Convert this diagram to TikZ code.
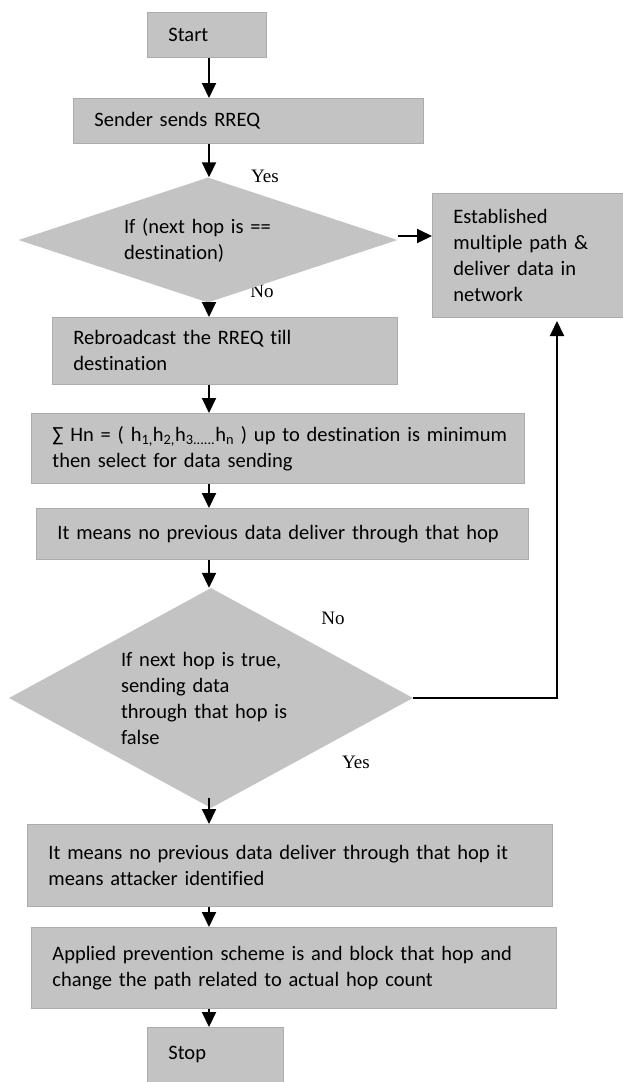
\documentclass[tikz,border=0pt]{standalone}
\usepackage{fontspec}
\setmainfont{Carlito}[Ligatures=NoCommon]
\newfontfamily\lblfont{Liberation Serif}
\usetikzlibrary{shapes.geometric,arrows.meta,positioning}
\definecolor{boxgray}{RGB}{195,195,195}
\definecolor{boxedge}{RGB}{172,172,172}
\tikzset{
  blk/.style={rectangle, fill=boxgray, draw=boxedge, line width=0.8pt, anchor=north west,
    align=left, inner xsep=21pt, inner ysep=0pt, font=\fontsize{20.5}{26}\selectfont},
  dmd/.style={diamond, fill=boxgray, align=left, inner sep=0pt, font=\fontsize{20.5}{26}\selectfont},
  yn/.style={font=\lblfont\fontsize{19}{20}\selectfont, inner sep=0pt},
  flow/.style={line width=2pt, -{Triangle[width=14pt,length=15pt]}},
}
\begin{document}
\begin{tikzpicture}[x=1pt, y=-1pt]
  \useasboundingbox (0,0) rectangle (623,1082);
  \coordinate (ax) at (209,0);
  % main column
  \node [blk, text width=77pt, minimum height=45pt] (start) at (147,12) {Start};
  \node [blk, text width=308pt, minimum height=45pt] (rreq) at (73,98) {Sender sends RREQ};
  \node [yn] (no1) at (262,291) {No};
  \node [dmd, text width=168pt, shape aspect=3, minimum width=379pt, minimum height=125pt] (dec1) at (208,240)
    {If (next hop is ==\\destination)};
  \node [blk, text width=149pt, minimum height=124pt] (est) at (432,193)
    {Established\\multiple path \&\\deliver data in\\network};
  \node [blk, text width=303pt, minimum height=67pt] (rebc) at (52,317)
    {Rebroadcast the RREQ till\\destination};
  \node [blk, text width=451pt, minimum height=70pt] (sum) at (31,413)
    {\mbox{∑ Hn = ( h\textsubscript{1,}h\textsubscript{2,}h\textsubscript{3......}h\textsubscript{n} ) up to destination is minimum}\\then select for data sending};
  \node [blk, text width=450pt, minimum height=51pt] (nop) at (36,508)
    {It means no previous data deliver through that hop};
  \node [dmd, text width=180pt, shape aspect=2, minimum width=404pt, minimum height=220pt] (dec2) at (211,698)
    {If next hop is true,\\sending data\\through that hop is\\false};
  \node [blk, text width=483pt, minimum height=82pt] (atk) at (27,824)
    {It means no previous data deliver through that hop it\\means attacker identified};
  \node [blk, text width=483pt, minimum height=81pt] (prev) at (31,927)
    {Applied prevention scheme is and block that hop and\\change the path related to actual hop count};
  \node [blk, text width=94pt, minimum height=55pt] (stop) at (147,1027) {Stop};
  % labels
  \node [yn] (yes1) at (265,176) {Yes};
  \node [yn] (no2) at (333,618) {No};
  \node [yn] (yes2) at (356,762) {Yes};
  \coordinate (back) at (557,321);
  % arrows
  \draw [flow] (start.south -| ax) -- (rreq.north -| ax);
  \draw [flow] (rreq.south -| ax) -- (dec1.north -| ax);
  \draw [flow, shorten <=-10pt] (dec1.south -| ax) -- (rebc.north -| ax);
  \draw [flow] ([yshift=4pt]dec1.east) -- ([yshift=4pt]est.west |- dec1.east);
  \draw [flow] (rebc.south -| ax) -- (sum.north -| ax);
  \draw [flow] (sum.south -| ax) -- (nop.north -| ax);
  \draw [flow] (nop.south -| ax) -- (dec2.north -| ax);
  \draw [flow, shorten <=-10pt] (dec2.south -| ax) -- (atk.north -| ax);
  \draw [flow] (dec2.east) -| (back);
  \draw [flow] (atk.south -| ax) -- (prev.north -| ax);
  \draw [flow] (prev.south -| ax) -- (stop.north -| ax);
\end{tikzpicture}
\end{document}
